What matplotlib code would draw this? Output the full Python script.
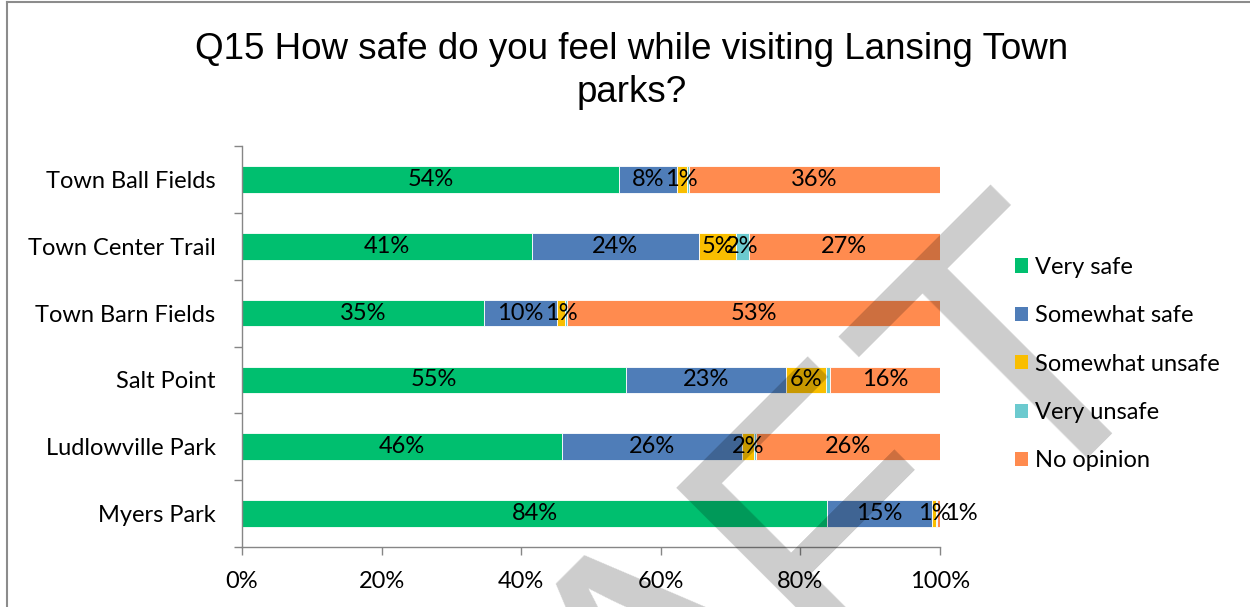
import matplotlib.pyplot as plt
import numpy as np
from matplotlib.patches import Patch
from matplotlib.lines import Line2D

# parks, top to bottom as in the survey chart
parks = ['Town Ball Fields', 'Town Center Trail', 'Town Barn Fields',
         'Salt Point', 'Ludlowville Park', 'Myers Park']
answers = ['Very safe', 'Somewhat safe', 'Somewhat unsafe', 'Very unsafe', 'No opinion']

# shares (%)
very_safe = [54.0, 41.5, 34.7, 55.0, 45.9, 83.8]
somewhat_safe = [8.3, 24.0, 10.4, 23.0, 25.7, 15.1]
somewhat_unsafe = [1.4, 5.3, 1.2, 5.6, 1.8, 0.5]
very_unsafe = [0.3, 1.8, 0.3, 0.6, 0.3, 0.1]
no_opinion = [36.0, 27.4, 53.4, 15.8, 26.3, 0.5]

# data labels as printed on the chart ('' = not shown)
lab_very_safe = ['54%', '41%', '35%', '55%', '46%', '84%']
lab_somewhat_safe = ['8%', '24%', '10%', '23%', '26%', '15%']
lab_somewhat_unsafe = ['1%', '5%', '1%', '6%', '2%', '1%']
lab_very_unsafe = ['', '2%', '', '', '', '']
lab_no_opinion = ['36%', '27%', '53%', '16%', '26%', '1%']

cols = ['#00BF6F', '#4F7DB8', '#F9BE00', '#6CCACF', '#FF8B4F']
series = [very_safe, somewhat_safe, somewhat_unsafe, very_unsafe, no_opinion]
labels = [lab_very_safe, lab_somewhat_safe, lab_somewhat_unsafe, lab_very_unsafe, lab_no_opinion]

# watermark letters of "DRAFT" that fall inside the picture (figure fraction anchors)
wm_letters = ['A', 'F', 'T']
wm_x = [0.604, 0.7304, 0.8784]
wm_y = [-0.2455, 0.0264, 0.2751]

txtfont = 'Lato'
txtsize = 17
axcol = '#868686'

fig = plt.figure(figsize=(12.5, 6.07), dpi=100)
ax = fig.add_axes([0.1936, 0.0988, 0.5584, 0.6606])

ypos = np.arange(len(parks))[::-1]
left = np.zeros(len(parks))
for k in range(len(series)):
	vals = np.array(series[k]) / 100.
	ax.barh(ypos, vals, left=left, height=0.4, color=cols[k], edgecolor='white',
			linewidth=0.6, label=answers[k], zorder=2)
	for i in range(len(parks)):
		if labels[k][i] == '':
			continue
		xc = left[i] + vals[i] / 2.
		# last tiny orange label on Myers Park sits outside the bar
		if k == 4 and vals[i] < 0.01:
			xc = left[i] + vals[i] + 0.03
		ax.text(xc, ypos[i], labels[k][i], ha='center', va='center',
				fontsize=txtsize, family=txtfont, color='black', zorder=3)
	left = left + vals

ax.set_xlim(0, 1)
ax.set_ylim(-0.5, len(parks) - 0.5)
ax.set_xticks(np.arange(0, 1.01, 0.2))
ax.set_xticklabels(['{:d}%'.format(int(round(v * 100))) for v in np.arange(0, 1.01, 0.2)])
ax.set_yticks(np.arange(-0.5, len(parks), 1.0))
ax.set_yticklabels([])
ax.set_yticks(ypos, minor=True)
ax.set_yticklabels(parks, minor=True)
ax.tick_params(axis='y', which='major', direction='out', length=6, color=axcol, width=1)
ax.tick_params(axis='y', which='minor', length=0, pad=19, labelsize=txtsize)
ax.tick_params(axis='x', direction='out', length=6, color=axcol, width=1, pad=11, labelsize=txtsize)
for t in ax.get_xticklabels() + ax.get_yticklabels(minor=True):
	t.set_family(txtfont)
for s in ['top', 'right']:
	ax.spines[s].set_visible(False)
for s in ['left', 'bottom']:
	ax.spines[s].set_color(axcol)
	ax.spines[s].set_linewidth(1)

# Title
fig.text(0.505, 0.883, 'Q15 How safe do you feel while visiting Lansing Town\nparks?',
		 ha='center', va='center', fontsize=26.5, family='Liberation Sans', linespacing=1.32)

# Handling legends
handles = [Patch(facecolor=cols[k], edgecolor='none', label=answers[k]) for k in range(len(answers))]
leg = fig.legend(handles=handles, loc='center left', bbox_to_anchor=(0.812, 0.40),
				 frameon=False, prop={'family': txtfont, 'size': txtsize},
				 handlelength=0.55, handleheight=0.55, handletextpad=0.3,
				 labelspacing=1.16, borderpad=0, borderaxespad=0)

# chart border (top and left edges visible)
fig.add_artist(Line2D([7 / 1250., 7 / 1250.], [0, 1 - 2 / 607.], color='#8c8c8c', lw=1.5))
fig.add_artist(Line2D([7 / 1250., 1], [1 - 2 / 607., 1 - 2 / 607.], color='#8c8c8c', lw=1.5))

# DRAFT watermark, one letter at a time
for c, x, y in zip(wm_letters, wm_x, wm_y):
	fig.text(x, y, c, rotation=45, rotation_mode='anchor', ha='center', va='baseline',
			 fontsize=274, family='Liberation Sans', color='black', alpha=0.2, zorder=5)

fig.savefig('out.png', dpi=100)
